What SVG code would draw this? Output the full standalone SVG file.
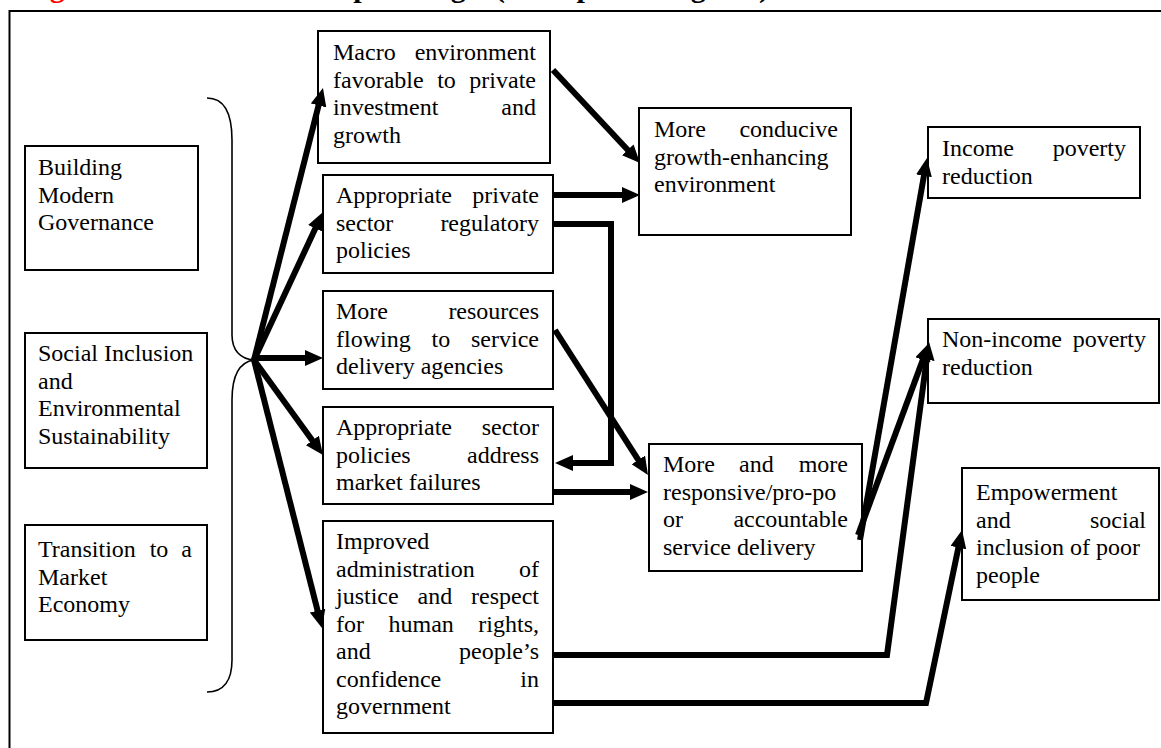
<svg xmlns="http://www.w3.org/2000/svg" width="1161" height="748" viewBox="0 0 1161 748">
  <style>
    .box { fill: #ffffff; stroke: #000000; stroke-width: 2; }
    .r { text-anchor: end; }
    .link { fill: none; stroke: #000000; stroke-width: 6; stroke-linejoin: miter; }
    .brace { fill: none; stroke: #000000; stroke-width: 1.6; }
  </style>
  <defs>
    <marker id="head" viewBox="0 0 18 16" refX="8" refY="8" markerWidth="18" markerHeight="16" markerUnits="userSpaceOnUse" orient="auto">
      <path d="M0,0 L18,8 L0,16 z" fill="#000000"/>
    </marker>
  </defs>

  <rect width="1161" height="748" fill="#ffffff"/>

  <!-- caption, mostly above the top edge -->
  <text font-family="Liberation Serif, Times New Roman, serif" font-size="30" font-weight="bold" x="23" y="-3"><tspan fill="#ff0000">Figure 3:</tspan><tspan fill="#000000" x="190">Outcome-Impact Logic (conceptual diagram)</tspan></text>

  <!-- outer frame -->
  <path d="M1161,11 H9.5 V748" fill="none" stroke="#000000" stroke-width="2"/>

  <!-- brace grouping the three themes -->
  <path class="brace" d="M207,98 C224,98 232,112 232,140 V335 C232,350 240,359 254,360 C240,362 232,375 232,400 V660 C232,680 224,692 207,692"/>

  <g font-family="Liberation Serif, Times New Roman, serif" font-size="24" fill="#000000">
  <g id="theme-governance">
    <rect class="box" x="25" y="146" width="173" height="124"/>
    <text x="38" y="175">Building</text>
    <text x="38" y="202.5">Modern</text>
    <text x="38" y="230">Governance</text>
  </g>

  <g id="theme-social">
    <rect class="box" x="25" y="333" width="182" height="135"/>
    <text x="38" y="361">Social Inclusion</text>
    <text x="38" y="388.5">and</text>
    <text x="38" y="416">Environmental</text>
    <text x="38" y="443.5">Sustainability</text>
  </g>

  <g id="theme-market">
    <rect class="box" x="25" y="525" width="182" height="115"/>
    <text x="38" y="557">Transition</text>
    <text x="149.7" y="557">to</text>
    <text class="r" x="192" y="557">a</text>
    <text x="38" y="584.5">Market</text>
    <text x="38" y="612">Economy</text>
  </g>

  <g id="out-macro">
    <rect class="box" x="318" y="31" width="232" height="132"/>
    <text x="333" y="60">Macro</text>
    <text class="r" x="536" y="60">environment</text>
    <text x="333" y="87.5">favorable</text>
    <text x="437.2" y="87.5">to</text>
    <text class="r" x="536" y="87.5">private</text>
    <text x="333" y="115">investment</text>
    <text class="r" x="536" y="115">and</text>
    <text x="333" y="142.5">growth</text>
  </g>

  <g id="out-regulatory">
    <rect class="box" x="323" y="175" width="230" height="98"/>
    <text x="336" y="203">Appropriate</text>
    <text class="r" x="539" y="203">private</text>
    <text x="336" y="230.5">sector</text>
    <text class="r" x="539" y="230.5">regulatory</text>
    <text x="336" y="258">policies</text>
  </g>

  <g id="out-resources">
    <rect class="box" x="323" y="291" width="230" height="98"/>
    <text x="336" y="319">More</text>
    <text class="r" x="539" y="319">resources</text>
    <text x="336" y="346.5">flowing</text>
    <text x="431.5" y="346.5">to</text>
    <text class="r" x="539" y="346.5">service</text>
    <text x="336" y="374">delivery agencies</text>
  </g>

  <g id="out-sector">
    <rect class="box" x="323" y="407" width="230" height="97"/>
    <text x="336" y="435">Appropriate</text>
    <text class="r" x="539" y="435">sector</text>
    <text x="336" y="462.5">policies</text>
    <text class="r" x="539" y="462.5">address</text>
    <text x="336" y="490">market failures</text>
  </g>

  <g id="out-justice">
    <rect class="box" x="323" y="521" width="230" height="212"/>
    <text x="336" y="549">Improved</text>
    <text x="336" y="576.5">administration</text>
    <text class="r" x="539" y="576.5">of</text>
    <text x="336" y="604">justice</text>
    <text x="417.5" y="604">and</text>
    <text class="r" x="539" y="604">respect</text>
    <text x="336" y="631.5">for</text>
    <text x="388.5" y="631.5">human</text>
    <text class="r" x="539" y="631.5">rights,</text>
    <text x="336" y="659">and</text>
    <text class="r" x="539" y="659">people’s</text>
    <text x="336" y="686.5">confidence</text>
    <text class="r" x="539" y="686.5">in</text>
    <text x="336" y="714">government</text>
  </g>

  <g id="res-growth">
    <rect class="box" x="639" y="108" width="212" height="127"/>
    <text x="654" y="137">More</text>
    <text class="r" x="838" y="137">conducive</text>
    <text x="654" y="164.5">growth-enhancing</text>
    <text x="654" y="192">environment</text>
  </g>

  <g id="res-service">
    <rect class="box" x="649" y="444" width="213" height="127"/>
    <text x="663" y="472">More</text>
    <text x="739" y="472">and</text>
    <text class="r" x="848" y="472">more</text>
    <text x="663" y="499.5">responsive/pro-po</text>
    <text x="663" y="527">or</text>
    <text class="r" x="848" y="527">accountable</text>
    <text x="663" y="554.5">service delivery</text>
  </g>

  <g id="imp-income">
    <rect class="box" x="928" y="127" width="212" height="71"/>
    <text x="942" y="156">Income</text>
    <text class="r" x="1126" y="156">poverty</text>
    <text x="942" y="183.5">reduction</text>
  </g>

  <g id="imp-nonincome">
    <rect class="box" x="928" y="319" width="231" height="84"/>
    <text x="942" y="347">Non-income</text>
    <text class="r" x="1146" y="347">poverty</text>
    <text x="942" y="374.5">reduction</text>
  </g>

  <g id="imp-empowerment">
    <rect class="box" x="962" y="468" width="197" height="132"/>
    <text x="976" y="500">Empowerment</text>
    <text x="976" y="527.5">and</text>
    <text class="r" x="1146" y="527.5">social</text>
    <text x="976" y="555">inclusion of poor</text>
    <text x="976" y="582.5">people</text>
  </g>
  </g>

  <g id="connectors">
    <!-- fan from the brace point -->
    <path class="link" marker-end="url(#head)" d="M254,360 L320.5,97.7"/>
    <path class="link" marker-end="url(#head)" d="M254,360 L318.8,221.1"/>
    <path class="link" marker-end="url(#head)" d="M254,358 L313,358"/>
    <path class="link" marker-end="url(#head)" d="M254,360 L317.1,446.9"/>
    <path class="link" marker-end="url(#head)" d="M254,360 L319.5,618.3"/>
    <!-- outputs to results -->
    <path class="link" marker-end="url(#head)" d="M553,70 L633.2,155.7"/>
    <path class="link" marker-end="url(#head)" d="M553,195 L630,195"/>
    <path class="link" marker-end="url(#head)" d="M553,224 H611 V463 H565"/>
    <path class="link" marker-end="url(#head)" d="M555,330 L642.6,466.6"/>
    <path class="link" marker-end="url(#head)" d="M553,492 L638,492"/>
    <!-- results to impacts -->
    <path class="link" marker-end="url(#head)" d="M860,540 L925.3,167.9"/>
    <path class="link" marker-end="url(#head)" d="M858,535 L925.6,352.4"/>
    <path class="link" marker-end="url(#head)" d="M553,655 H887 L927.7,351.9"/>
    <path class="link" marker-end="url(#head)" d="M553,703 H926 L960,539.8"/>
  </g>
</svg>
